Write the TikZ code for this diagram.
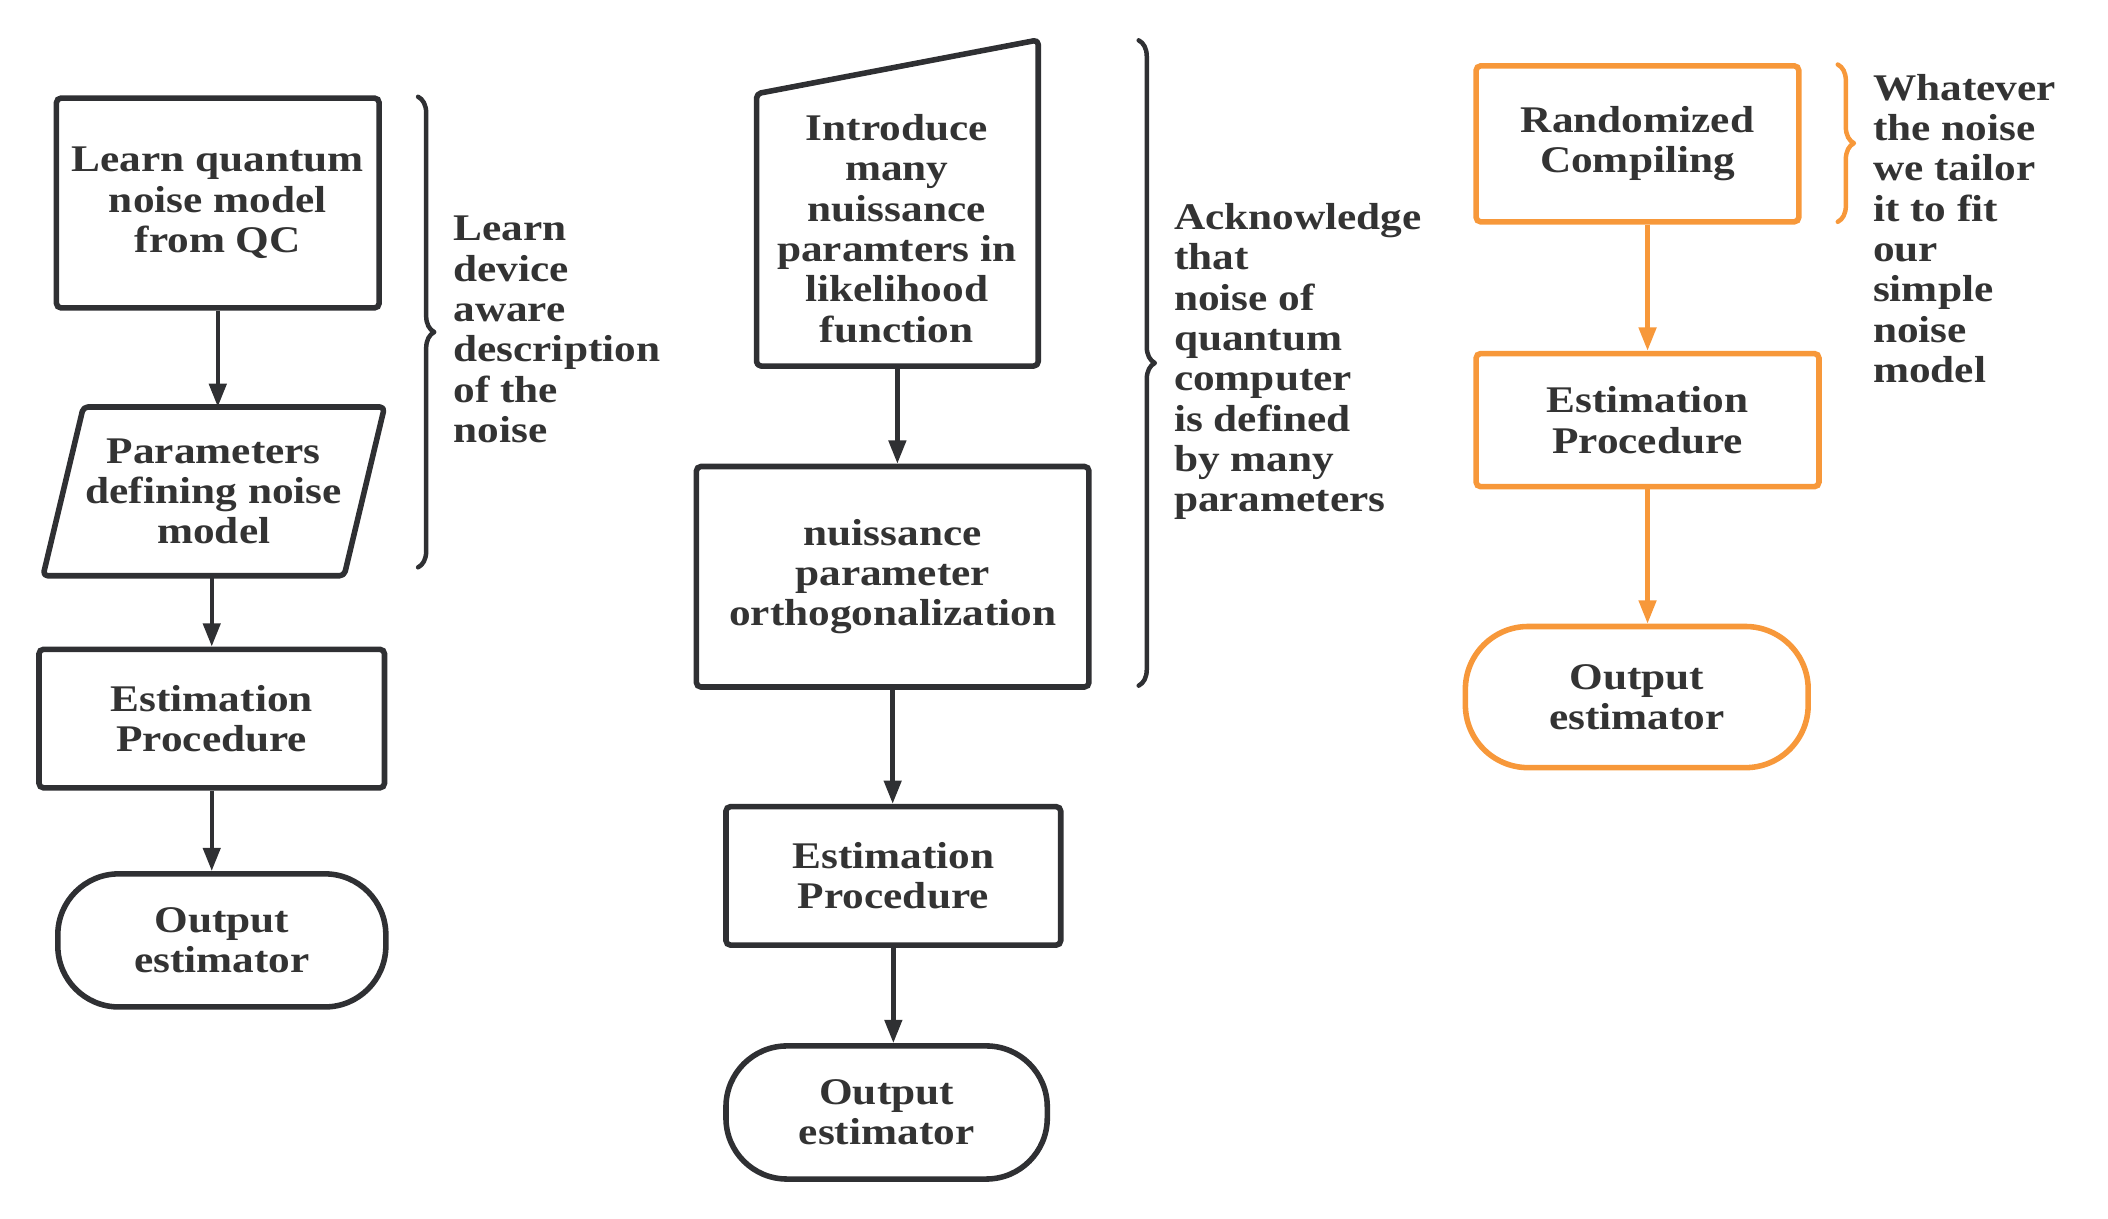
\documentclass[tikz,border=0pt]{standalone}
\usepackage{fontspec}
\setmainfont{Liberation Serif}[FakeStretch=1.15]
\usetikzlibrary{arrows.meta,decorations.pathreplacing,calc}
\definecolor{ink}{HTML}{333333}
\definecolor{linec}{HTML}{2F3033}
\definecolor{orng}{HTML}{F7983A}
\begin{document}
\begin{tikzpicture}[x=0.75pt,y=-0.75pt,
  every node/.style={font=\fontsize{21pt}{22.5pt}\selectfont\bfseries, text=ink, align=center, inner sep=0pt},
  box/.style={draw=linec, line width=3.1pt, rounded corners=2.5pt},
  obox/.style={draw=orng, line width=3.1pt, rounded corners=2.5pt},
  term/.style={draw=linec, line width=3.1pt, rounded corners=34pt},
  oterm/.style={draw=orng, line width=3.1pt, rounded corners=35pt},
  shapeline/.style={draw=linec, line width=3.1pt, rounded corners=2.5pt, line join=round},
  flow/.style={draw=linec, line width=2.5pt, -{Triangle[length=13pt,width=9.5pt]}},
  oflow/.style={draw=orng, line width=2.5pt, -{Triangle[length=13pt,width=9.5pt]}},
  bracedeco/.style={decorate, decoration={brace, amplitude=9pt}, line width=2.5pt, line cap=round, line join=round},
  side/.style={align=left, anchor=west}
]
\useasboundingbox (0,0) rectangle (1568,906);

% ---------------- left column
\node[box, minimum width=180pt, minimum height=117pt] (b1) at (162,151) {Learn quantum\\noise model\\from QC};
\node[minimum width=1pt, minimum height=93.75pt] (par) at (159,365.5) {Parameters\\defining noise\\model};
\draw[shapeline] ($(par.north)+(-97,0)$) -- ($(par.north)+(127,0)$) -- ($(par.south)+(97,0)$) -- ($(par.south)+(-127,0)$) -- cycle;
\node[box, minimum width=192.75pt, minimum height=77.25pt] (est1) at (157.5,534.5) {Estimation\\Procedure};
\node[term, minimum width=183pt, minimum height=74.25pt] (out1) at (165,699.5) {Output\\estimator};

\draw[flow] (b1.south) -- (b1.south |- par.north);
\draw[flow] (par.south -| est1.north) -- (est1.north);
\draw[flow] (est1.south) -- (est1.south |- out1.north);

\coordinate (br1a) at (311,72);
\coordinate (br1b) at (311,422);
\draw[bracedeco, draw=linec] (br1a) -- (br1b);
\node[side] (t1) at (337,245) {Learn\\device\\aware\\description\\of the\\noise};

% ---------------- middle column
\node[minimum width=156.75pt, minimum height=181.5pt] (intro) at (667.5,151) {};
\draw[shapeline] (intro.south west) -- ($(intro.north west)+(0,40)$) -- (intro.north east) -- (intro.south east) -- cycle;
\node (introtxt) at (667,170) {Introduce\\many\\nuissance\\paramters in\\likelihood\\function};
\node[box, minimum width=219pt, minimum height=123pt] (orth) at (664,429) {nuissance\\parameter\\orthogonalization};
\node[box, minimum width=186.75pt, minimum height=77.25pt] (est2) at (664.5,651.5) {Estimation\\Procedure};
\node[term, minimum width=179.25pt, minimum height=74.25pt] (out2) at (659.5,827.5) {Output\\estimator};

\draw[flow] (intro.south) -- (intro.south |- orth.north);
\draw[flow] (orth.south) -- (orth.south |- est2.north);
\draw[flow] (est2.south) -- (est2.south |- out2.north);

\coordinate (br2a) at (847,30);
\coordinate (br2b) at (847,510);
\draw[bracedeco, draw=linec] (br2a) -- (br2b);
\node[side] (t2) at (873,269) {Acknowledge\\that\\noise of\\quantum\\computer\\is defined\\by many\\parameters};

% ---------------- right column
\node[obox, minimum width=180pt, minimum height=87pt] (rc) at (1218,107) {Randomized\\Compiling};
\node[obox, minimum width=191.25pt, minimum height=74.25pt] (est3) at (1225.5,312.5) {Estimation\\Procedure};
\node[oterm, minimum width=191.25pt, minimum height=78.75pt] (out3) at (1217.5,518.5) {Output\\estimator};

\draw[oflow] (est3.north |- rc.south) -- (est3.north);
\draw[oflow] (est3.south) -- (est3.south |- out3.north);

\coordinate (br3a) at (1367,48);
\coordinate (br3b) at (1367,165);
\draw[bracedeco, draw=orng] (br3a) -- (br3b);
\node[side] (t3) at (1393,170) {Whatever\\the noise\\we tailor\\it to fit\\our\\simple\\noise\\model};
\end{tikzpicture}
\end{document}
